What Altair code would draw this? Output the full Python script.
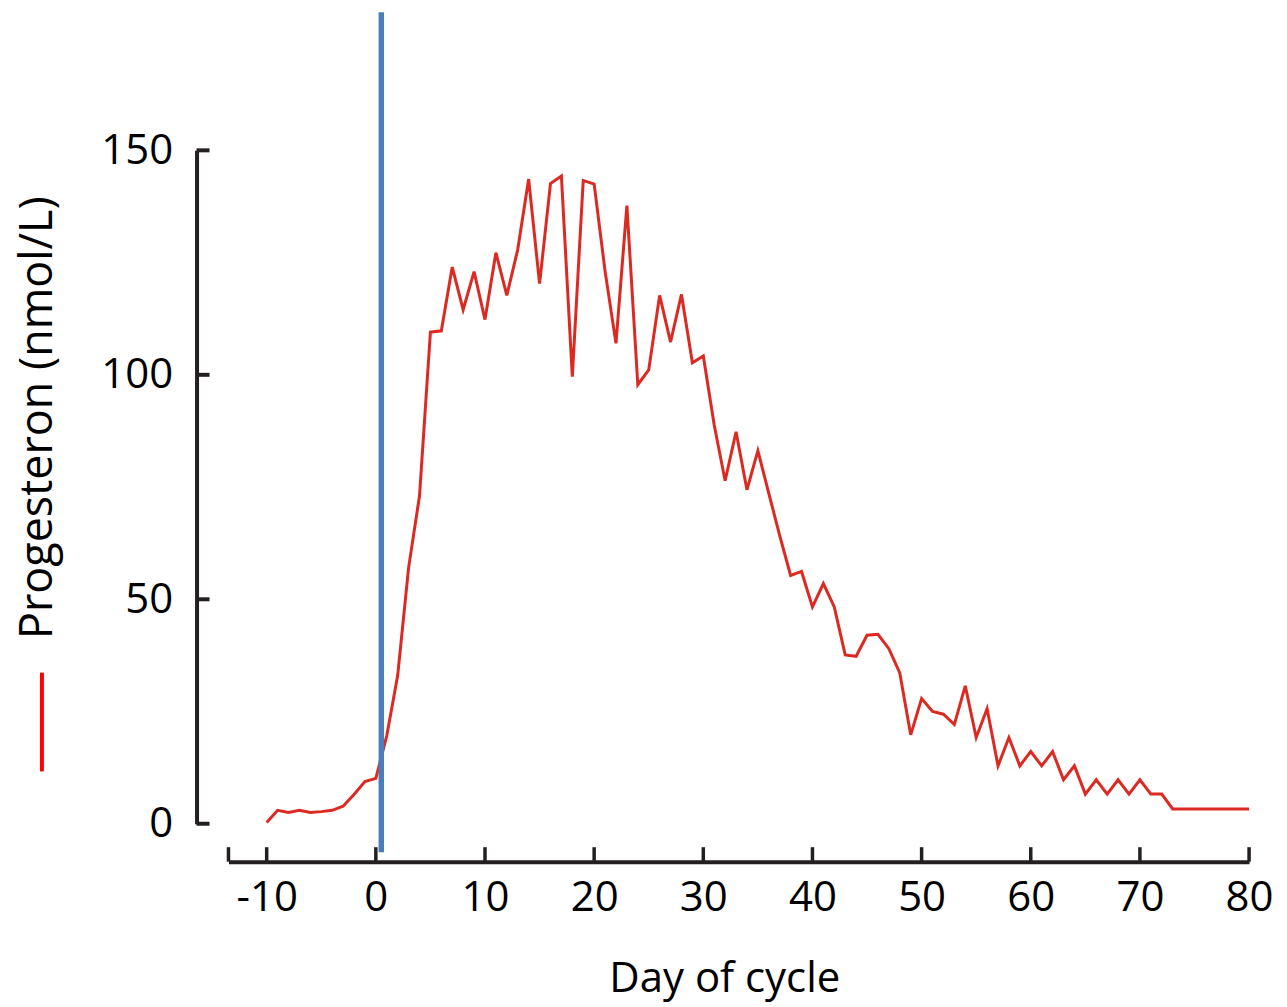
import altair as alt
import pandas as pd

# Progesterone curve (day of cycle, nmol/L)
days = list(range(-10, 81))
progesteron = [
    0.3, 3.0, 2.5, 3.0, 2.5, 2.7, 3.0, 3.9, 6.5, 9.4,          # -10 .. -1
    10.1, 19.6, 33.0, 57.0, 73.0, 109.5, 109.8, 124.0, 114.5, 123.0,  # 0 .. 9
    112.3, 127.2, 117.7, 127.9, 143.6, 120.3, 142.6, 144.3, 99.6, 143.3,  # 10 .. 19
    142.5, 123.1, 107.0, 137.7, 97.8, 101.1, 117.7, 107.3, 117.9, 102.7,  # 20 .. 29
    104.2, 88.8, 76.4, 87.3, 74.4, 83.1, 73.6, 64.2, 55.3, 56.2,  # 30 .. 39
    48.3, 53.5, 48.3, 37.6, 37.3, 42.0, 42.2, 39.0, 33.6, 19.8,  # 40 .. 49
    27.9, 25.0, 24.4, 22.1, 30.7, 19.2, 25.6, 12.9, 19.2, 12.9,  # 50 .. 59
    16.1, 12.9, 16.1, 9.8, 12.9, 6.6, 9.8, 6.6, 9.8, 6.6,        # 60 .. 69
    9.8, 6.6, 6.6, 3.3, 3.3, 3.3, 3.3, 3.3, 3.3, 3.3,            # 70 .. 79
    3.3,                                                         # 80
]
ovulation_day = [0.5]
x_label_values = [-10, 0, 10, 20, 30, 40, 50, 60, 70, 80]
x_tick_values = [-13.5, -10, 0, 10, 20, 30, 40, 50, 60, 70, 80]
y_tick_values = [0, 50, 100, 150]
x_domain = [-13.5, 80]
y_domain = [0, 150]

FONT = "Open Sans"
AXIS_COLOR = "#231f20"

df = pd.DataFrame({"day": days, "value": progesteron})
df_ov = pd.DataFrame({"day": ovulation_day})
df_xt = pd.DataFrame({"day": x_tick_values})
df_yt = pd.DataFrame({"value": y_tick_values})
df_leg = pd.DataFrame({"k": [0]})

xscale = alt.Scale(domain=x_domain, nice=False, zero=False)
yscale = alt.Scale(domain=y_domain, nice=False, zero=False)

x_axis = alt.Axis(
    values=x_label_values, title="Day of cycle", offset=38, grid=False,
    domainColor=AXIS_COLOR, domainWidth=4, ticks=False, tickSize=0,
    labelFont=FONT, labelFontSize=42, labelColor="black", labelPadding=16,
    labelFlush=False, labelOverlap=False,
    labelExpr="datum.value < 0 ? '-' + abs(datum.value) : '' + datum.value",
    titleFont=FONT, titleFontSize=42, titleFontWeight="normal", titleColor="black",
    titleX=497, titleY=130.5, titleBaseline="alphabetic", titleAlign="center",
)
y_axis = alt.Axis(
    values=y_tick_values, title="Progesteron (nmol/L)", offset=32, grid=False,
    domainColor=AXIS_COLOR, domainWidth=4, ticks=False, tickSize=0,
    labelFont=FONT, labelFontSize=42, labelColor="black", labelPadding=24,
    labelFlush=False, labelOverlap=False,
    titleFont=FONT, titleFontSize=45, titleFontWeight="normal", titleColor="black",
    titleX=-145, titleY=267.5, titleBaseline="alphabetic", titleAlign="center",
    titleAngle=270,
)

line = alt.Chart(df).mark_line(color="#dc2a22", strokeWidth=3).encode(
    x=alt.X("day:Q", scale=xscale, axis=x_axis),
    y=alt.Y("value:Q", scale=yscale, axis=y_axis),
)

ov = alt.Chart(df_ov).mark_rule(color="#4a7ebb", strokeWidth=5.5).encode(
    x=alt.X("day:Q", scale=xscale, axis=x_axis),
    y=alt.value(-138.5),
    y2=alt.value(703.5),
)

xt = alt.Chart(df_xt).mark_rule(color=AXIS_COLOR, strokeWidth=3.5).encode(
    x=alt.X("day:Q", scale=xscale, axis=x_axis),
    y=alt.value(698.5),
    y2=alt.value(713),
)

yt = alt.Chart(df_yt).mark_rule(color=AXIS_COLOR, strokeWidth=4).encode(
    y=alt.Y("value:Q", scale=yscale, axis=y_axis),
    x=alt.value(-32),
    x2=alt.value(-19),
)

leg = alt.Chart(df_leg).mark_rule(color="#ff0000", strokeWidth=4).encode(
    x=alt.value(-187),
    y=alt.value(523.5),
    y2=alt.value(622.5),
)

chart = alt.layer(line, ov, xt, yt, leg).properties(
    width=1023,
    height=675,
    background="white",
    autosize=alt.AutoSizeParams(type="none"),
    padding={"left": 221, "top": 141.5, "right": 30, "bottom": 180},
).configure_view(strokeWidth=0, stroke="transparent")

chart.save("out.html", embed_options={"renderer": "svg", "actions": False})
